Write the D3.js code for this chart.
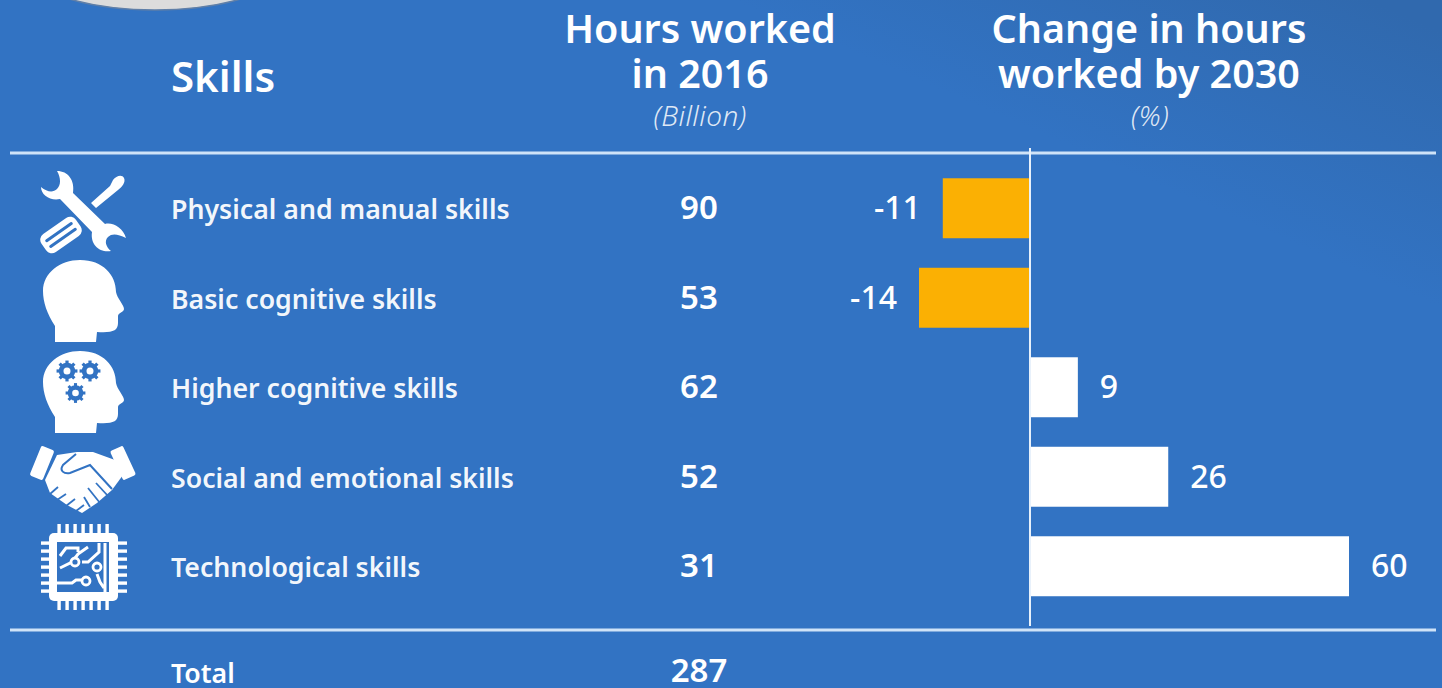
<!DOCTYPE html>
<html>
<head>
<meta charset="utf-8">
<script src="https://cdn.jsdelivr.net/npm/d3@7"></script>
<style>
  html, body { margin: 0; padding: 0; background: #3273c3; overflow: hidden; }
  text { font-family: "Noto Sans", sans-serif; fill: #fff; }
</style>
</head>
<body>
<div id="chart"></div>
<script>
const skills = ['Physical and manual skills', 'Basic cognitive skills', 'Higher cognitive skills', 'Social and emotional skills', 'Technological skills'];
const hours2016 = [90, 53, 62, 52, 31];
const changeBy2030 = [-11, -14, 9, 26, 60];
const totalHours = 287;

const width = 1442;
const height = 688;
const blue = '#3273c3';

const svg = d3.select('#chart')
  .append('svg')
  .attr('width', width)
  .attr('height', height)
  .style('display', 'block');

// background goes slightly darker towards the top right
const defs = svg.append('defs');
const grad = defs.append('linearGradient')
  .attr('id', 'bg')
  .attr('x1', 0.75).attr('y1', 0.22)
  .attr('x2', 0.95).attr('y2', 0);
grad.append('stop').attr('offset', 0).attr('stop-color', blue);
grad.append('stop').attr('offset', 1).attr('stop-color', '#3069ae');
svg.append('rect').attr('width', width).attr('height', height).attr('fill', 'url(#bg)');

// piece of the circle cut off at the top
svg.append('ellipse')
  .attr('cx', 155).attr('cy', -52)
  .attr('rx', 150).attr('ry', 62)
  .attr('fill', '#dcdcdc')
  .attr('stroke', '#5f7fa8')
  .attr('stroke-width', 1.5);

// the rows and the bars. the picture draws negatives on a wider scale than positives
const y = d3.scaleBand()
  .domain(skills)
  .range([163.5, 611])
  .paddingInner(0.33)
  .paddingOuter(0.165);

const x = d3.scaleLinear()
  .domain([-14, 0, 60])
  .range([919, 1030, 1349]);

const rowY = (d) => y(d) + y.bandwidth() / 2;

// column headers, one text per header so the lines stay together
function header(lines, cx, firstY, size, anchor) {
  const t = svg.append('text')
    .attr('y', firstY)
    .attr('text-anchor', anchor)
    .attr('font-size', size)
    .attr('font-weight', 600);
  lines.forEach((line, i) => {
    t.append('tspan')
      .attr('x', cx)
      .attr('dy', i === 0 ? 0 : 44.5)
      .text(line);
  });
}
header(['Skills'], 171, 92, 42, 'start');
header(['Hours worked', 'in 2016'], 700, 43, 39.5, 'middle');
header(['Change in hours', 'worked by 2030'], 1149, 43, 39.5, 'middle');

[['(Billion)', 700], ['(%)', 1150]].forEach(([label, cx]) => {
  svg.append('text')
    .attr('x', cx)
    .attr('y', 126)
    .attr('text-anchor', 'middle')
    .attr('font-size', 28)
    .attr('font-style', 'italic')
    .attr('font-weight', 300)
    .attr('letter-spacing', 0.4)
    .attr('fill-opacity', 0.85)
    .text(label);
});

// rules
const rule = '#cfe3f8';
svg.append('line').attr('x1', 10).attr('x2', 1436).attr('y1', 153).attr('y2', 153)
  .attr('stroke', rule).attr('stroke-width', 3);
svg.append('line').attr('x1', 10).attr('x2', 1436).attr('y1', 630).attr('y2', 630)
  .attr('stroke', rule).attr('stroke-width', 3);

// bars
svg.selectAll('.bar')
  .data(skills)
  .enter()
  .append('rect')
  .attr('class', 'bar')
  .attr('x', (d, i) => Math.min(x(changeBy2030[i]), x(0)))
  .attr('y', (d) => y(d))
  .attr('width', (d, i) => Math.abs(x(changeBy2030[i]) - x(0)))
  .attr('height', y.bandwidth())
  .attr('fill', (d, i) => changeBy2030[i] < 0 ? '#fbb003' : '#fff');

svg.append('line').attr('x1', x(0)).attr('x2', x(0)).attr('y1', 148).attr('y2', 626)
  .attr('stroke', '#e8f1fb').attr('stroke-width', 2);

// row labels
svg.selectAll('.skill')
  .data(skills)
  .enter()
  .append('text')
  .attr('class', 'skill')
  .attr('x', 171)
  .attr('y', (d) => rowY(d) + 11)
  .attr('font-size', 26.7)
  .attr('font-weight', 600)
  .attr('fill-opacity', 0.95)
  .text((d) => d);

svg.selectAll('.hours')
  .data(skills)
  .enter()
  .append('text')
  .attr('class', 'hours')
  .attr('x', 699)
  .attr('y', (d) => rowY(d) + 11)
  .attr('text-anchor', 'middle')
  .attr('font-size', 33)
  .attr('font-weight', 600)
  .text((d, i) => hours2016[i]);

svg.selectAll('.change')
  .data(skills)
  .enter()
  .append('text')
  .attr('class', 'change')
  .attr('x', (d, i) => x(changeBy2030[i]) + (changeBy2030[i] < 0 ? -22 : 22))
  .attr('y', (d) => rowY(d) + 11)
  .attr('text-anchor', (d, i) => changeBy2030[i] < 0 ? 'end' : 'start')
  .attr('font-size', 32)
  .attr('font-weight', 500)
  .text((d, i) => changeBy2030[i]);

svg.append('text').attr('x', 171).attr('y', 683)
  .attr('font-size', 26.7).attr('font-weight', 600).text('Total');
svg.append('text').attr('x', 699).attr('y', 682)
  .attr('text-anchor', 'middle').attr('font-size', 33).attr('font-weight', 600).text(totalHours);

// icons, drawn in page coordinates
const icons = svg.append('g');

// tools
const tools = icons.append('g');
tools.append('path')
  .attr('d', 'M57 171 C68 171 75 180 73 193 L105 224 C113 222 123 228 126 238 C118 234 112 233 108 237 C104 241 106 247 111 251 C100 253 90 245 92 232 L60 199 C50 201 41 195 41 187 C47 192 53 193 57 189 C61 185 61 178 57 171 Z')
  .attr('fill', '#fff');
tools.append('path')
  .attr('d', 'M91 203 L110 186 L113 180 C116 176 122 174 124 178 C126 182 122 187 118 190 L96 208 Z')
  .attr('fill', '#fff');
const handle = tools.append('g').attr('transform', 'translate(61,235) rotate(-35)');
handle.append('rect')
  .attr('x', -21).attr('y', -11).attr('width', 42).attr('height', 22).attr('rx', 7)
  .attr('fill', '#fff');
[-3.5, 3.5].forEach((off) => {
  handle.append('line').attr('x1', -15).attr('x2', 15).attr('y1', off).attr('y2', off)
    .attr('stroke', blue).attr('stroke-width', 3).attr('stroke-linecap', 'round');
});

// heads
const headPath = 'M55 342 L55 326 C47 314 43 302 43 291 C43 273 60 260 80 260 C103 260 116 275 116 292 C117 298 124 305 124 309 C124 312 118 313 118 316 L118 323 C118 331 112 333 97 332 L96 342 Z';
icons.append('path').attr('d', headPath).attr('fill', '#fff');
icons.append('path').attr('d', headPath).attr('transform', 'translate(0,91)').attr('fill', '#fff');

function gear(cx, cy, r) {
  const g = icons.append('g').attr('transform', `translate(${cx},${cy})`);
  g.append('circle').attr('r', r * 0.62).attr('fill', 'none').attr('stroke', blue).attr('stroke-width', r * 0.5);
  d3.range(8).forEach((k) => {
    g.append('rect')
      .attr('x', -r * 0.17).attr('y', -r * 1.1).attr('width', r * 0.34).attr('height', r * 0.35)
      .attr('transform', `rotate(${k * 45})`)
      .attr('fill', blue);
  });
}
gear(67, 371, 9.5);
gear(90, 371, 9.5);
gear(75.5, 393, 9);

// handshake
const shake = icons.append('g');
shake.append('rect').attr('x', -7).attr('y', -16).attr('width', 14).attr('height', 32).attr('rx', 2)
  .attr('transform', 'translate(42,463) rotate(22)').attr('fill', '#fff');
shake.append('rect').attr('x', -7).attr('y', -16).attr('width', 14).attr('height', 32).attr('rx', 2)
  .attr('transform', 'translate(123,463) rotate(-25)').attr('fill', '#fff');
shake.append('path')
  .attr('d', 'M57 455 L77 452 L93 452 L115 460 L123 475 L112 490 L97 503 L82 513 L67 505 L50 493 L45 480 Z')
  .attr('fill', '#fff');
shake.append('path')
  .attr('d', 'M76 454 L63 465 C59 471 64 474 70 473 L90 465 L112 489')
  .attr('fill', 'none').attr('stroke', blue).attr('stroke-width', 2);
[[58, 487, 50, 494], [66, 494, 57, 500], [75, 499, 66, 506], [84, 505, 76, 511]].forEach((s) => {
  shake.append('line').attr('x1', s[0]).attr('y1', s[1]).attr('x2', s[2]).attr('y2', s[3])
    .attr('stroke', blue).attr('stroke-width', 1.8);
});
[[88, 488, 100, 503], [96, 483, 108, 496], [84, 497, 90, 507]].forEach((s) => {
  shake.append('line').attr('x1', s[0]).attr('y1', s[1]).attr('x2', s[2]).attr('y2', s[3])
    .attr('stroke', blue).attr('stroke-width', 1.8);
});

// chip
const chip = icons.append('g');
d3.range(7).forEach((k) => {
  const p = 59 + k * 8;
  chip.append('rect').attr('x', p - 1.6).attr('y', 524).attr('width', 3.4).attr('height', 86).attr('fill', '#fff');
  const q = 543 + k * 8;
  chip.append('rect').attr('x', 41).attr('y', q - 1.6).attr('width', 86).attr('height', 3.4).attr('fill', '#fff');
});
chip.append('rect').attr('x', 49).attr('y', 533).attr('width', 69).attr('height', 68).attr('rx', 5).attr('fill', '#fff');
chip.append('rect').attr('x', 57).attr('y', 542).attr('width', 52).attr('height', 50).attr('fill', blue);
const traces = 'M60 556 L66 548 L78 548 L78 552 M60 568 L72 562 L78 554 L88 547 M99 543 L99 552 L88 562 L82 562 M57 583 L72 583 L76 580 L84 580 M105 543 L105 592 M97 574 L100 582 L104 588';
chip.append('path').attr('d', traces).attr('fill', 'none').attr('stroke', '#fff').attr('stroke-width', 3);
[[75, 562], [97, 567], [86, 581]].forEach((c) => {
  chip.append('circle').attr('cx', c[0]).attr('cy', c[1]).attr('r', 4).attr('fill', blue).attr('stroke', '#fff').attr('stroke-width', 2.8);
});
</script>
</body>
</html>
